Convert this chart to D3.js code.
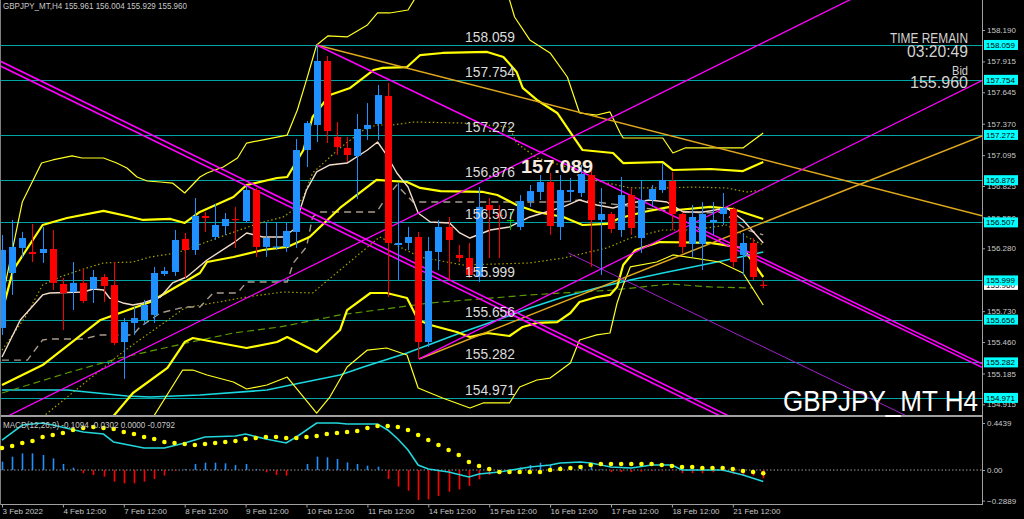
<!DOCTYPE html>
<html><head><meta charset="utf-8">
<script src="https://cdn.jsdelivr.net/npm/d3@7"></script>
<style>
body{margin:0;background:#000;overflow:hidden}
svg{display:block}
text{font-family:"Liberation Sans",Arial,sans-serif}
</style></head>
<body><svg id="c" width="1024" height="519"></svg>
<script>
// ---------- DATA ----------
const open=[155.583,156.064,156.283,156.248,156.239,156.274,155.968,155.898,155.977,155.924,
156.029,155.959,155.460,155.627,155.653,155.697,156.055,156.073,156.362,156.265,
156.563,156.379,156.475,156.537,156.519,156.790,156.292,156.287,156.292,156.423,
157.140,157.359,157.919,157.254,157.158,157.088,157.324,157.368,157.613,156.309,
156.327,156.379,155.460,156.248,156.467,156.222,156.195,156.029,156.659,156.572,
156.528,156.467,156.694,156.773,156.860,156.467,156.773,156.764,156.921,156.528,
156.580,156.440,156.746,156.370,156.703,156.790,156.869,156.580,156.318,156.318,
156.510,156.580,156.624,156.222,156.327,155.961];
const high=[156.397,156.528,156.423,156.493,156.467,156.440,156.020,156.160,156.099,156.090,
156.055,156.160,155.670,155.767,155.828,156.117,156.117,156.440,156.414,156.720,
156.598,156.668,156.589,156.642,156.825,156.808,156.510,156.510,156.502,157.236,
157.394,158.059,157.963,157.385,157.254,157.455,157.551,157.709,157.726,156.851,
156.467,156.423,156.379,156.528,156.554,156.309,156.327,156.816,156.720,156.659,
156.598,156.746,156.834,156.921,156.939,156.921,156.895,157.009,156.965,156.808,
156.598,156.904,156.808,156.878,156.834,157.026,156.948,156.598,156.659,156.685,
156.685,156.764,156.642,156.414,156.370,156.004];
const low=[155.522,155.872,156.195,156.160,156.152,155.915,155.565,155.740,155.802,155.802,
155.810,155.434,155.137,155.522,155.609,155.627,156.038,156.038,156.020,156.222,
156.423,156.353,156.397,156.283,156.502,156.204,156.204,156.265,156.248,156.283,
156.991,157.210,157.201,157.096,157.035,156.711,157.228,157.228,155.854,156.003,
156.265,155.312,155.417,156.090,156.003,156.160,156.020,155.985,156.195,156.195,
156.440,156.440,156.642,156.703,156.397,156.353,156.685,156.729,156.117,156.047,
156.414,156.379,156.397,156.239,156.642,156.764,156.440,156.239,156.204,156.090,
156.397,156.484,156.117,156.047,156.003,155.929];
const close=[156.265,156.292,156.370,156.230,156.274,155.977,155.889,155.977,155.819,156.029,
155.950,155.452,155.635,155.670,155.784,156.064,156.082,156.353,156.265,156.563,
156.545,156.484,156.537,156.528,156.790,156.292,156.370,156.296,156.432,157.140,
157.376,157.919,157.306,157.166,157.096,157.324,157.359,157.621,156.327,156.327,
156.379,155.460,156.257,156.467,156.353,156.195,156.047,156.642,156.615,156.563,
156.528,156.694,156.781,156.860,156.475,156.790,156.790,156.930,156.528,156.580,
156.449,156.746,156.458,156.703,156.799,156.878,156.580,156.292,156.554,156.580,
156.528,156.633,156.160,156.327,156.029,155.960];

// indicator lines as [bar, price]
const bbThinUpper=[[0,155.828],[2,156.685],[3.9,157.026],[5,157.053],[6.9,157.088],[7.9,157.070],[10,157.070],[11.3,157.026],[12.3,156.983],[13.3,156.904],[14.3,156.869],[15.6,156.860],[16.8,156.851],[18,156.764],[19.5,156.904],[20.2,156.939],[21.8,156.991],[23.2,157.070],[24.1,157.201],[26.1,157.236],[28.1,157.271],[29.1,157.490],[30,157.753],[31,158.059],[32.1,158.138],[34,158.129],[36,158.234],[37,158.339],[38.2,158.339],[40,158.365],[41.2,158.540],[43.2,158.628],[47.1,158.628],[49.1,158.540],[50,158.453],[50.5,158.304],[52,158.103],[54,157.989],[55.7,157.779],[56.9,157.464],[58.6,157.446],[59.9,157.473],[60.9,157.289],[61.2,157.245],[65.1,157.245],[66.1,157.114],[67.3,157.158],[73,157.158],[75,157.289]];
const bbThickUpper=[[0,155.723],[1.1,156.090],[4,156.484],[6.4,156.545],[10,156.607],[12.3,156.563],[13.9,156.528],[16.6,156.537],[18,156.502],[19.5,156.598],[22.8,156.729],[24.1,156.834],[27.1,156.895],[28.1,156.904],[29.7,157.140],[30.6,157.429],[32.3,157.621],[34.3,157.683],[36.6,157.840],[37.5,157.858],[39.9,157.866],[41.2,157.971],[43.4,157.989],[47.8,157.998],[49.4,157.954],[50.7,157.823],[51.3,157.683],[52.7,157.578],[54.7,157.464],[56.3,157.254],[57.2,157.140],[60.2,157.114],[61.2,157.026],[65.1,157.035],[66.1,156.965],[69.8,156.974],[73,156.956],[75,157.035]];
const bbMiddle=[[0,155.084],[4,155.259],[9.7,155.653],[14.6,155.810],[19.5,156.064],[20.2,156.160],[22.8,156.204],[25.7,156.265],[28.1,156.292],[30.3,156.379],[33.3,156.633],[36.9,156.878],[39.9,156.860],[41.2,156.808],[43.2,156.781],[47.4,156.773],[48.8,156.746],[50.7,156.659],[52.7,156.598],[55.3,156.554],[57.2,156.484],[59.6,156.493],[60.9,156.545],[63.2,156.598],[65.8,156.642],[66.5,156.615],[69.8,156.642],[72,156.624],[75,156.537]];
const bbThickLower=[[8.7,154.603],[10.9,154.804],[12.9,155.014],[16.3,155.233],[18,155.460],[18.8,155.495],[24.1,155.408],[27.1,155.460],[28.1,155.504],[31,155.373],[33.3,155.565],[34,155.740],[36.3,155.889],[37.9,155.889],[39.9,155.845],[41,155.653],[42.2,155.609],[44.8,155.548],[46.1,155.504],[47.8,155.539],[50,155.513],[51.3,155.592],[52.7,155.627],[54.7,155.635],[56,155.714],[56.9,155.810],[58.6,155.854],[59.9,155.872],[60.6,155.942],[61.2,156.134],[62.4,156.265],[64.8,156.335],[69.8,156.327],[73,156.283],[75,156.029]];
const bbThinLower=[[12.6,154.603],[14.9,154.804],[17.8,155.215],[18.8,155.215],[20.2,155.172],[22.8,155.110],[24.1,155.049],[26.1,155.084],[28.1,155.154],[31,154.839],[32.3,154.979],[34,155.242],[36,155.390],[37.9,155.408],[39.9,155.347],[41,155.058],[42.2,155.014],[43.4,154.970],[46.1,154.883],[47.4,154.927],[50,154.927],[51,155.067],[52.7,155.128],[54,155.145],[56,155.277],[56.9,155.478],[58.6,155.522],[59.9,155.539],[60.6,155.802],[61.2,155.959],[61.9,156.117],[64.5,156.160],[66.1,156.222],[70.7,156.160],[73,156.064],[75,155.784]];
const maFast=[[0,155.329],[1.8,155.653],[4,155.872],[4.7,155.889],[8,155.898],[9,155.924],[10,155.915],[10.6,155.845],[11.9,155.802],[12.9,155.784],[13.9,155.802],[15.6,155.854],[16.8,155.977],[18.2,156.029],[20.2,156.178],[22.8,156.327],[24.1,156.414],[25.7,156.379],[27.7,156.379],[28.7,156.440],[30,156.790],[31,156.948],[32.3,157.009],[34,157.026],[36,157.140],[37,157.210],[37.9,157.096],[38.9,156.939],[40,156.816],[41,156.589],[42.2,156.510],[44.1,156.502],[45.1,156.414],[46.1,156.370],[48.1,156.440],[50,156.467],[52,156.554],[53.3,156.589],[55.3,156.642],[56.9,156.703],[58.6,156.659],[60.2,156.633],[61.9,156.676],[63.8,156.703],[65.5,156.685],[67.1,156.598],[69.1,156.598],[71.4,156.633],[73,156.528],[75,156.327]];
const stepLine=[[0,155.302],[2.5,155.302],[4,155.478],[4.7,155.487],[8,155.487],[9.7,155.522],[12.9,155.522],[13.6,155.592],[15.6,155.714],[18,155.767],[19.5,155.767],[20.8,155.889],[23.2,155.889],[24.1,155.985],[28.1,155.985],[28.7,156.152],[30,156.292],[30.6,156.554],[31.3,156.598],[36.9,156.598],[37.9,156.729],[38.9,156.834],[40.5,156.685],[55.3,156.685],[56.9,156.703],[64.8,156.615],[69.1,156.589],[71,156.598],[73.4,156.440],[75,156.397]];
const dotUpper=[[0,155.390],[2.3,155.679],[4,155.959],[5.7,156.029],[7.7,156.090],[10,156.152],[12.9,156.160],[14.6,156.204],[17.2,156.239],[18.8,156.292],[21.2,156.370],[23.4,156.440],[25.4,156.502],[27.7,156.554],[28.7,156.615],[29.7,156.729],[30.6,156.939],[32,157.053],[33.3,157.158],[35.6,157.315],[36.9,157.359],[38.5,157.359],[40.5,157.385],[45.4,157.376],[50,157.341],[50.7,157.201],[52.7,157.070],[56,156.983],[56.9,156.904],[61.9,156.808],[65.1,156.808],[68.1,156.816],[71.4,156.808],[73.4,156.773],[75,156.790]];
const dotLower=[[1.8,154.603],[4,154.804],[11.9,155.373],[18,155.758],[24.1,155.854],[27.7,155.898],[30.6,155.889],[33.3,156.090],[37.2,156.379],[41.2,156.204],[45.4,156.134],[52,156.152],[55.3,156.195],[59.6,156.283],[61.9,156.370],[65.1,156.440],[68.1,156.440],[71.4,156.484],[73.4,156.379],[75,156.309]];
const maGreen=[[0,155.014],[6.4,155.189],[11.6,155.320],[18.2,155.452],[22.8,155.539],[27.4,155.592],[33.3,155.697],[42.2,155.802],[52,155.872],[60.2,155.915],[65.8,155.968],[69.8,155.942],[74,155.933]];
const maCyan=[[0,155.040],[6.4,155.040],[12.3,154.988],[14.6,154.979],[19.5,154.997],[26.1,155.040],[29.4,155.102],[33.3,155.172],[35.6,155.242],[39.9,155.364],[45.4,155.548],[48.8,155.653],[52,155.758],[55.3,155.854],[58.6,155.933],[61.9,156.003],[65.1,156.064],[71.4,156.178],[75,156.248]];

// trend lines: two anchors [bar, price]
const trendMagenta=[
 {a:[0,157.910],b:[71.4,154.822],from:"edge",w:1.6},
 {a:[0,157.868],b:[71.4,154.786],from:"edge",w:1.6},
 {a:[31,158.059],b:[67.8,156.493],from:31,w:1.5},
 {a:[31,158.028],b:[67.8,156.462],from:67.8,w:1.5},
 {a:[0,154.787],b:[27.7,156.003],from:"edge",w:1.3},
 {a:[41.1,155.312],b:[64.8,156.353],from:41.1,w:1.3}];
const trendGold=[
 {a:[31,158.059],b:[64.8,157.289],from:31,w:1.5},
 {a:[41.1,155.312],b:[64.8,156.146],from:41.1,w:1.5}];
const trendPurple=[{a:[55.8,156.239],b:[64.8,155.854],from:55.8,w:1}];

const hLevels=[158.059,157.754,157.272,156.876,156.507,155.999,155.656,155.282,154.971];
const priceTicks=[158.190,157.915,157.645,157.370,157.095,156.825,156.550,156.280,155.730,155.460,155.185,154.915];
const bidPrice=155.960;
const dateTicks=[0,6,12,18,24,30,36,42,48,54,60,66,72];
const dateLabels=["3 Feb 2022","4 Feb 12:00","7 Feb 12:00","8 Feb 12:00","9 Feb 12:00","10 Feb 12:00","11 Feb 12:00","14 Feb 12:00","15 Feb 12:00","16 Feb 12:00","17 Feb 12:00","18 Feb 12:00","21 Feb 12:00"];

const macdSignal=[0.208,0.227,0.255,0.274,0.312,0.330,0.349,0.378,0.397,0.406,
0.397,0.387,0.359,0.340,0.312,0.293,0.264,0.255,0.246,0.236,
0.246,0.255,0.264,0.274,0.293,0.302,0.312,0.312,0.302,0.302,
0.312,0.321,0.340,0.349,0.359,0.368,0.397,0.415,0.415,0.406,
0.378,0.330,0.283,0.236,0.189,0.142,0.076,0.038,0.009,-0.019,
-0.019,-0.019,-0.019,-0.019,0.000,0.009,0.019,0.028,0.047,0.057,
0.057,0.057,0.057,0.057,0.057,0.047,0.038,0.028,0.028,0.019,
0.019,0.019,0.009,-0.009,-0.019,-0.030];
const macdHist=[0.079,0.126,0.157,0.157,0.142,0.110,0.057,0.022,-0.031,-0.047,
-0.063,-0.110,-0.126,-0.126,-0.110,-0.085,-0.053,-0.009,0.009,0.057,
0.069,0.069,0.063,0.047,0.057,0.009,-0.022,-0.047,-0.053,0.000,
0.057,0.126,0.120,0.104,0.072,0.057,0.041,0.031,-0.085,-0.157,
-0.195,-0.283,-0.277,-0.245,-0.205,-0.183,-0.151,-0.088,-0.047,-0.010,
0.010,0.025,0.047,0.069,0.047,0.038,0.038,0.047,0.063,0.005,
-0.020,-0.020,-0.020,-0.015,-0.005,-0.005,-0.005,-0.030,-0.030,-0.030,
-0.022,-0.013,-0.040,-0.053,-0.053,-0.079];
const macdMain=[[0,0.283],[2,0.425],[4,0.444],[5,0.425],[8,0.359],[10,0.340],[11,0.264],[14,0.208],[16,0.208],[18,0.255],[20,0.312],[23,0.321],[24,0.340],[26,0.293],[28,0.255],[29,0.312],[31,0.444],[33,0.444],[34,0.434],[37,0.434],[38,0.378],[39,0.293],[40,0.189],[41,0.047],[42,0.009],[44,-0.019],[46,-0.066],[47,-0.038],[49,-0.019],[52,0.028],[54,0.047],[55,0.066],[57,0.076],[58,0.066],[60,0.028],[62,0.019],[64,0.047],[66,0.047],[67,0.000],[71,0.000],[73,-0.047],[75,-0.109]];
const macdTicks=[0.4439,0,-0.2889];

// ---------- LAYOUT ----------
const svg=d3.select("#c");
const plotR=982, mainBot=415, macdTop=417, macdBot=504;
const x=d3.scaleLinear().domain([0,75]).range([2,763.25]);
const y=d3.scaleLinear().domain([158.19,154.915]).range([30,404.33]);
const ym=d3.scaleLinear().domain([0.4439,-0.2889]).range([423,500.6]);

svg.append("rect").attr("width",1024).attr("height",519).attr("fill","#000");
const defs=svg.append("defs");
defs.append("clipPath").attr("id","cm").append("rect").attr("x",0).attr("y",0).attr("width",plotR).attr("height",mainBot);
defs.append("clipPath").attr("id","cd").append("rect").attr("x",0).attr("y",macdTop).attr("width",plotR).attr("height",macdBot-macdTop);

const g=svg.append("g").attr("clip-path","url(#cm)");

// horizontal levels
g.selectAll(".hl").data(hLevels).join("line")
 .attr("x1",0).attr("x2",plotR).attr("y1",d=>Math.round(y(d))+0.5).attr("y2",d=>Math.round(y(d))+0.5)
 .attr("stroke","#00a5a5").attr("stroke-width",1);

const line=d3.line().x(d=>x(d[0])).y(d=>y(d[1]));
function drawLine(data,color,w,dash){
 g.append("path").attr("d",line(data)).attr("fill","none").attr("stroke",color)
  .attr("stroke-width",w).attr("stroke-dasharray",dash||null).attr("stroke-linejoin","round");
}
drawLine(maCyan,"#18d8e0",1.6);
drawLine(maGreen,"#5c9a00",1.2,"7,4");
drawLine(dotLower,"#a8a000",1.2,"1.5,2.5");
drawLine(dotUpper,"#a8a000",1.2,"1.5,2.5");
drawLine(stepLine,"#a89a8c",1.4,"7,5");
drawLine(bbThinUpper,"#ffff20",1.2);
drawLine(bbThinLower,"#ffff20",1.2);
drawLine(bbThickUpper,"#ffff00",2.2);
drawLine(bbMiddle,"#ffff00",2.2);
drawLine(bbThickLower,"#ffff00",2.2);
drawLine(maFast,"#f2dccb",1.4);

// trend lines
const xEdgeL=x.invert(0), xEdgeR=x.invert(plotR);
function trend(t,color){
 const s=(t.b[1]-t.a[1])/(t.b[0]-t.a[0]);
 const x0=t.from==="edge"?xEdgeL:t.from;
 const pts=[[x0,t.a[1]+s*(x0-t.a[0])],[xEdgeR,t.a[1]+s*(xEdgeR-t.a[0])]];
 g.append("path").attr("d",line(pts)).attr("fill","none").attr("stroke",color).attr("stroke-width",t.w);
}
trendGold.forEach(t=>trend(t,"#e0a81c"));
trendPurple.forEach(t=>trend(t,"#a020c8"));
trendMagenta.forEach(t=>trend(t,"#ff00ff"));

// candles
const idx=d3.range(open.length);
const col=i=>close[i]>open[i]?"#1e90ff":(close[i]<open[i]?"#ff0000":"#00c000");
g.selectAll(".wk").data(idx).join("line")
 .attr("x1",i=>Math.round(x(i))+0.5).attr("x2",i=>Math.round(x(i))+0.5)
 .attr("y1",i=>y(high[i])).attr("y2",i=>y(low[i])).attr("stroke",col).attr("stroke-width",1);
g.selectAll(".bd").data(idx).join("rect")
 .attr("x",i=>Math.round(x(i))-3).attr("width",7)
 .attr("y",i=>Math.min(y(open[i]),y(close[i])))
 .attr("height",i=>Math.max(1.2,Math.abs(y(open[i])-y(close[i]))))
 .attr("fill",col);

// level labels
const fL='"Liberation Sans",Arial,sans-serif';
svg.selectAll(".lt").data(hLevels).join("text")
 .attr("x",465).attr("y",d=>Math.round(y(d))-3).attr("fill","#dcdcdc")
 .attr("font-size",15).attr("textLength",50).attr("lengthAdjust","spacingAndGlyphs")
 .text(d=>d3.format(".3f")(d));
svg.append("text").attr("x",521).attr("y",173).attr("fill","#f8eadc").attr("font-weight","bold")
 .attr("font-size",18).attr("textLength",72).attr("lengthAdjust","spacingAndGlyphs").text("157.089");

// frame lines
svg.append("line").attr("x1",0).attr("x2",plotR).attr("y1",416).attr("y2",416).attr("stroke","#a0a0a0").attr("stroke-width",2);
svg.append("line").attr("x1",0).attr("x2",plotR+1).attr("y1",504.5).attr("y2",504.5).attr("stroke","#a0a0a0");
svg.append("line").attr("x1",plotR+0.5).attr("x2",plotR+0.5).attr("y1",0).attr("y2",505).attr("stroke","#a0a0a0");
svg.append("line").attr("x1",0.5).attr("x2",0.5).attr("y1",0).attr("y2",505).attr("stroke","#808080");

// right price axis
const ax=svg.append("g").attr("transform",`translate(${plotR},0)`)
 .call(d3.axisRight(y).tickValues(priceTicks).tickSize(3).tickPadding(2).tickFormat(d3.format(".3f")));
ax.select(".domain").remove();
ax.selectAll("line").attr("stroke","#a0a0a0");
ax.selectAll("text").attr("fill","#c8c8c8").attr("font-size",8).attr("font-family",fL);

// price boxes
const boxes=[{v:bidPrice,bg:"#ffffff"}].concat(hLevels.map(v=>({v:v,bg:"#00ffff"})));
const bx=svg.append("g");
boxes.forEach(b=>{
 const yy=y(b.v);
 bx.append("rect").attr("x",984).attr("y",yy-5).attr("width",34).attr("height",10).attr("fill",b.bg);
 bx.append("text").attr("x",986).attr("y",yy+3).attr("fill","#000").attr("font-size",8).attr("font-family",fL)
  .text(d3.format(".3f")(b.v));
});

// date axis
const dx=svg.append("g").attr("transform",`translate(0,${macdBot+0.5})`)
 .call(d3.axisBottom(x).tickValues(dateTicks).tickSize(3).tickFormat((d,i)=>dateLabels[i]));
dx.select(".domain").remove();
dx.selectAll("line").attr("stroke","#a0a0a0");
dx.selectAll("text").attr("fill","#c8c8c8").attr("font-size",8).attr("font-family",fL)
 .attr("text-anchor","start").attr("dx",0).attr("y",4).attr("dy","0.71em");

// MACD panel
const gm=svg.append("g").attr("clip-path","url(#cd)");
gm.append("line").attr("x1",0).attr("x2",plotR).attr("y1",ym(0)).attr("y2",ym(0))
 .attr("stroke","#9a9a9a").attr("stroke-dasharray","1.5,2");
gm.selectAll(".hb").data(idx).join("line")
 .attr("x1",i=>Math.round(x(i))+0.5).attr("x2",i=>Math.round(x(i))+0.5)
 .attr("y1",ym(0)).attr("y2",i=>ym(macdHist[i]))
 .attr("stroke",i=>macdHist[i]>=0?"#1e90ff":"#ff0000").attr("stroke-width",1.6);
const lm=d3.line().x(d=>x(d[0])).y(d=>ym(d[1]));
gm.append("path").attr("d",lm(macdMain)).attr("fill","none").attr("stroke","#22d6dc").attr("stroke-width",1.6);
gm.selectAll(".sd").data(idx).join("circle")
 .attr("cx",i=>x(i)).attr("cy",i=>ym(macdSignal[i])).attr("r",2.3).attr("fill","#ffff00");

const am=svg.append("g").attr("transform",`translate(${plotR},0)`)
 .call(d3.axisRight(ym).tickValues(macdTicks).tickSize(3).tickPadding(2).tickFormat(d=>d===0?"0.00":d3.format(".4f")(d)));
am.select(".domain").remove();
am.selectAll("line").attr("stroke","#a0a0a0");
am.selectAll("text").attr("fill","#c8c8c8").attr("font-size",8).attr("font-family",fL);

// texts
svg.append("text").attr("x",3).attr("y",9).attr("fill","#c8c8c8").attr("font-size",8.5)
 .attr("textLength",184).attr("lengthAdjust","spacingAndGlyphs").text("GBPJPY_MT,H4  155.961 156.004 155.929 155.960");
svg.append("text").attr("x",3).attr("y",428).attr("fill","#c8c8c8").attr("font-size",8.3)
 .attr("textLength",172).attr("lengthAdjust","spacingAndGlyphs").text("MACD(12,26,9) -0.1094 -0.0302 0.0000 -0.0792");
const rt=[{t:"TIME REMAIN",y:43,s:14,w:78},{t:"03:20:49",y:57,s:16,w:61},{t:"Bid",y:75,s:13,w:16},{t:"155.960",y:88,s:17,w:58}];
rt.forEach(r=>svg.append("text").attr("x",968).attr("y",r.y).attr("text-anchor","end").attr("fill","#d2d2d2")
 .attr("font-size",r.s).attr("textLength",r.w).attr("lengthAdjust","spacingAndGlyphs").text(r.t));
svg.append("text").attr("x",978).attr("y",411).attr("text-anchor","end").attr("fill","#ffffff")
 .attr("font-size",29).attr("textLength",195).attr("lengthAdjust","spacingAndGlyphs").text("GBPJPY_MT H4");
</script></body></html>
